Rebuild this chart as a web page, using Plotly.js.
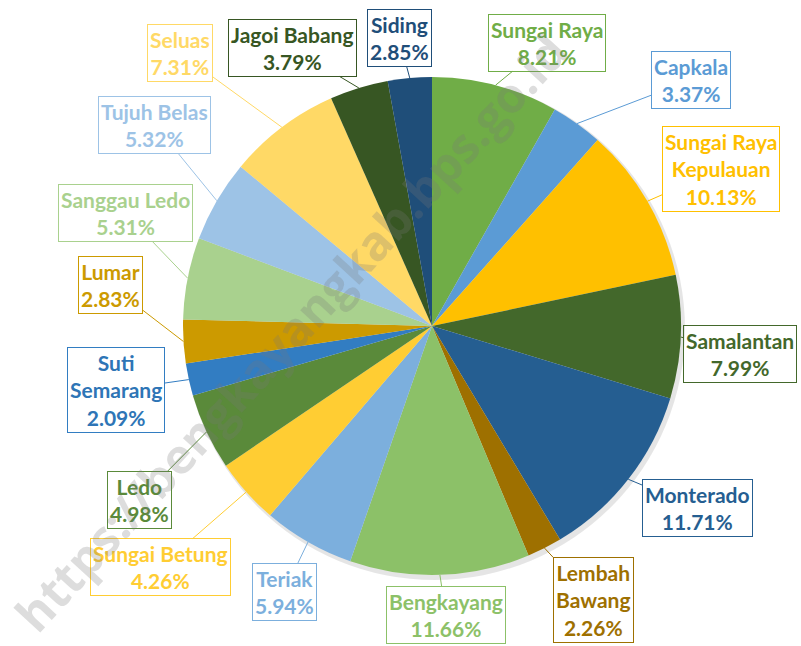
<!DOCTYPE html>
<html><head><meta charset="utf-8">
<script src="https://cdn.plot.ly/plotly-3.0.1.min.js"></script>
<style>html,body{margin:0;padding:0;background:#fff;}#chart{width:801px;height:646px;}</style>
</head><body><div id="chart"></div>
<script>
// ---- data ----
const districts = ["Sungai Raya","Capkala","Sungai Raya Kepulauan","Samalantan","Monterado","Lembah Bawang","Bengkayang","Teriak","Sungai Betung","Ledo","Suti Semarang","Lumar","Sanggau Ledo","Tujuh Belas","Seluas","Jagoi Babang","Siding"];
const shares = [8.21,3.37,10.13,7.99,11.71,2.26,11.66,5.94,4.26,4.98,2.09,2.83,5.31,5.32,7.31,3.79,2.85];
const labelLines = ["Sungai Raya","Capkala","Sungai Raya<br>Kepulauan","Samalantan","Monterado","Lembah<br>Bawang","Bengkayang","Teriak","Sungai Betung","Ledo","Suti<br>Semarang","Lumar","Sanggau Ledo","Tujuh Belas","Seluas","Jagoi Babang","Siding"];

// ---- styles / layout ----
const sliceColors = ["#70AD47","#5B9BD5","#FFC000","#43682B","#255E91","#9E7000","#8CC168","#7CAFDD","#FFCD33","#5A8A3A","#327DC2","#CC9A00","#A9D18E","#9DC3E6","#FFD966","#375623","#1F4E79"];
const textColors  = ["#70AD47","#5B9BD5","#FFC000","#43682B","#255E91","#9E7000","#8CC168","#7CAFDD","#FFCD33","#5A8A3A","#2E75B6","#CC9A00","#A9D18E","#9DC3E6","#FFD966","#375623","#1F4E79"];
const boxCenters = [[547,43],[691,80],[721,169],[740,354],[697,508],[593,600],[446,615],[284,592],[160,567],[139,500],[116,390],[110,285],[125,213],[155,125],[180,53],[292,48],[399,38]];
const W = 801, H = 646, CX = 432, CY = 326, R = 249;

const total = shares.reduce((a,b)=>a+b,0);
let cum = 0;
const annotations = [];
shares.forEach((v,i)=>{
  const mid = (cum + v/2)/total*2*Math.PI; cum += v;
  const px = CX + R*Math.sin(mid), py = CY - R*Math.cos(mid);
  const [bx,by] = boxCenters[i];
  annotations.push({
    x: px/W, y: 1-py/H, xref:'paper', yref:'paper',
    ax: bx-px, ay: by-py, axref:'pixel', ayref:'pixel',
    text: '<b>'+labelLines[i]+'<br>'+v.toFixed(2)+'%</b>',
    font:{family:'Lato, "Open Sans", sans-serif', size:21, color:textColors[i]},
    showarrow:true, arrowhead:0, arrowwidth:1, arrowcolor:sliceColors[i], standoff:0,
    bordercolor:sliceColors[i], borderwidth:1, borderpad:2, bgcolor:'rgba(255,255,255,0)', align:'center'
  });
});
annotations.push({
  x:290/W, y:1-332/H, xref:'paper', yref:'paper', showarrow:false, textangle:-47.5,
  text:'<b>https://bengkayangkab.bps.go.id</b>',
  font:{family:'"Open Sans", sans-serif', size:48, color:'rgba(120,120,120,0.25)'}
});

const trace = {
  type:'pie', values:shares, labels:districts, sort:false, direction:'clockwise', rotation:0,
  marker:{colors:sliceColors, line:{width:0}}, textinfo:'none', hoverinfo:'label+percent',
  domain:{x:[(CX-R)/W,(CX+R)/W], y:[(H-CY-R)/H,(H-CY+R)/H]}, showlegend:false
};
Plotly.newPlot('chart',[trace],{
  width:W, height:H, margin:{l:0,r:0,t:0,b:0}, paper_bgcolor:'#fff', showlegend:false,
  shapes:[{type:'circle', xref:'paper', yref:'paper', layer:'below',
    x0:(CX-R+1)/W, x1:(CX+R+4)/W, y0:1-(CY+R+5)/H, y1:1-(CY-R+1)/H,
    fillcolor:'rgba(0,0,0,0.10)', line:{width:0}}],
  annotations:annotations
},{staticPlot:true});
</script></body></html>
